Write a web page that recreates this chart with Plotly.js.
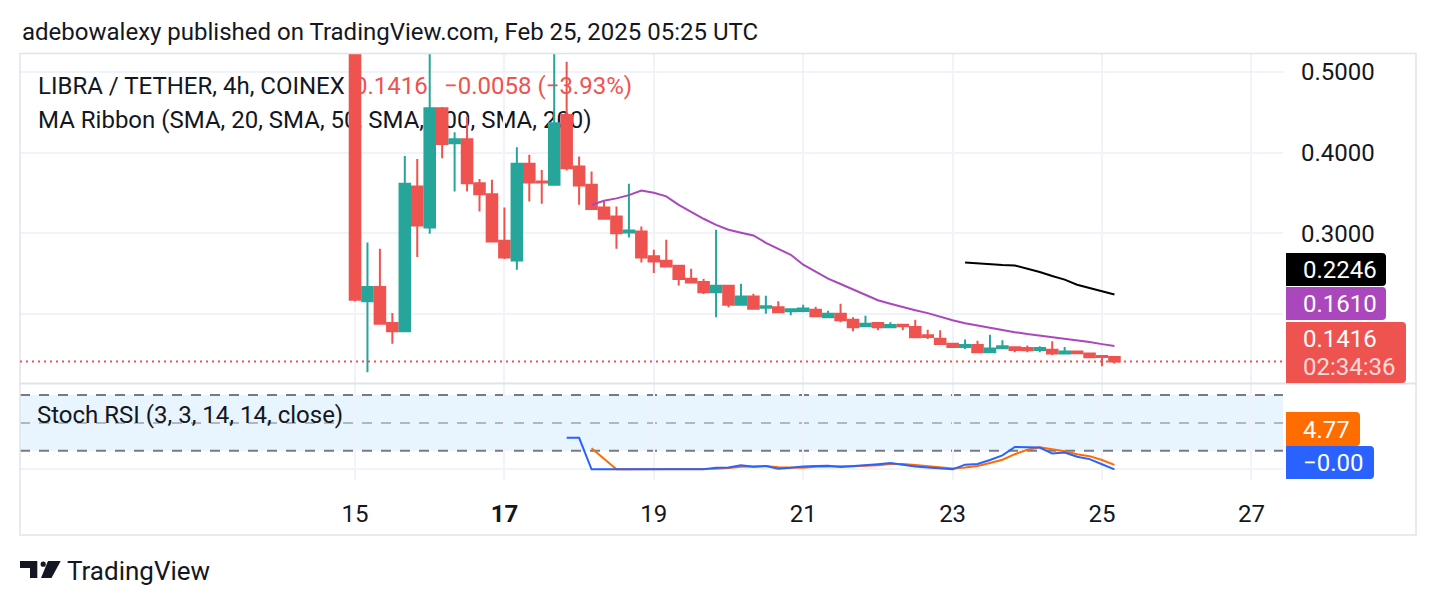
<!DOCTYPE html>
<html><head><meta charset="utf-8">
<script src="https://cdn.plot.ly/plotly-3.0.1.min.js"></script>
<style>html,body{margin:0;padding:0;background:#fff;}#chart{width:1436px;height:606px;}</style>
</head><body><div id="chart"></div>
<script>
// ---------- data ----------
const times = [
'2025-02-15 00:00','2025-02-15 04:00','2025-02-15 08:00','2025-02-15 12:00','2025-02-15 16:00','2025-02-15 20:00',
'2025-02-16 00:00','2025-02-16 04:00','2025-02-16 08:00','2025-02-16 12:00','2025-02-16 16:00','2025-02-16 20:00',
'2025-02-17 00:00','2025-02-17 04:00','2025-02-17 08:00','2025-02-17 12:00','2025-02-17 16:00','2025-02-17 20:00',
'2025-02-18 00:00','2025-02-18 04:00','2025-02-18 08:00','2025-02-18 12:00','2025-02-18 16:00','2025-02-18 20:00',
'2025-02-19 00:00','2025-02-19 04:00','2025-02-19 08:00','2025-02-19 12:00','2025-02-19 16:00','2025-02-19 20:00',
'2025-02-20 00:00','2025-02-20 04:00','2025-02-20 08:00','2025-02-20 12:00','2025-02-20 16:00','2025-02-20 20:00',
'2025-02-21 00:00','2025-02-21 04:00','2025-02-21 08:00','2025-02-21 12:00','2025-02-21 16:00','2025-02-21 20:00',
'2025-02-22 00:00','2025-02-22 04:00','2025-02-22 08:00','2025-02-22 12:00','2025-02-22 16:00','2025-02-22 20:00',
'2025-02-23 00:00','2025-02-23 04:00','2025-02-23 08:00','2025-02-23 12:00','2025-02-23 16:00','2025-02-23 20:00',
'2025-02-24 00:00','2025-02-24 04:00','2025-02-24 08:00','2025-02-24 12:00','2025-02-24 16:00','2025-02-24 20:00',
'2025-02-25 00:00','2025-02-25 04:00'];
const openP  = [0.6600,0.2161,0.2338,0.1894,0.1790,0.3581,0.3074,0.4548,0.4116,0.4164,0.3622,0.3486,0.2910,0.2667,0.3861,0.3642,0.3601,0.4465,0.3827,0.3601,0.3321,0.3210,0.3013,0.3024,0.2717,0.2663,0.2601,0.2441,0.2400,0.2272,0.2354,0.2120,0.2222,0.2083,0.2087,0.2037,0.2041,0.2058,0.1963,0.2009,0.1934,0.1852,0.1894,0.1840,0.1873,0.1844,0.1741,0.1700,0.1638,0.1597,0.1622,0.1531,0.1581,0.1593,0.1584,0.1560,0.1564,0.1515,0.1540,0.1515,0.1486,0.1474];
const highP  = [0.7000,0.2889,0.2811,0.2017,0.3959,0.3922,0.5300,0.4564,0.4252,0.4444,0.3675,0.3664,0.3321,0.4067,0.3972,0.3786,0.5400,0.5124,0.3951,0.3766,0.3394,0.3334,0.3614,0.3087,0.2799,0.2922,0.2601,0.2564,0.2441,0.3046,0.2354,0.2379,0.2256,0.2231,0.2161,0.2070,0.2120,0.2095,0.2046,0.2132,0.1963,0.1984,0.1894,0.1902,0.1873,0.1934,0.1811,0.1803,0.1644,0.1688,0.1675,0.1749,0.1680,0.1597,0.1614,0.1605,0.1667,0.1597,0.1552,0.1524,0.1494,0.1474];
const lowP   = [0.2160,0.1284,0.1874,0.1638,0.1790,0.2709,0.2996,0.3931,0.3519,0.3519,0.3272,0.2901,0.2684,0.2552,0.3395,0.3367,0.3601,0.3778,0.3354,0.3304,0.3182,0.2811,0.2951,0.2642,0.2511,0.2584,0.2358,0.2395,0.2252,0.1964,0.2087,0.2120,0.2070,0.2009,0.2025,0.1988,0.2025,0.1976,0.1963,0.1901,0.1790,0.1852,0.1803,0.1840,0.1803,0.1716,0.1696,0.1634,0.1594,0.1573,0.1531,0.1531,0.1573,0.1531,0.1531,0.1531,0.1499,0.1515,0.1511,0.1470,0.1358,0.1394];
const closeP = [0.2180,0.2338,0.1884,0.1790,0.3614,0.3099,0.4548,0.4107,0.4164,0.3622,0.3486,0.2901,0.2704,0.3861,0.3630,0.3630,0.4363,0.3807,0.3593,0.3304,0.3182,0.3004,0.3037,0.2704,0.2654,0.2593,0.2437,0.2395,0.2272,0.2354,0.2120,0.2222,0.2070,0.2099,0.2025,0.2062,0.2074,0.1976,0.2009,0.1926,0.1840,0.1885,0.1840,0.1869,0.1852,0.1716,0.1721,0.1634,0.1597,0.1622,0.1531,0.1577,0.1605,0.1560,0.1556,0.1584,0.1515,0.1540,0.1519,0.1470,0.1474,0.1416];
// MA Ribbon: SMA 20 (starts at candle 19), SMA 50 (starts at candle 49)
const sma20 = [0.3354,0.3404,0.3434,0.3474,0.3531,0.3504,0.3459,0.3354,0.3268,0.3182,0.3107,0.3046,0.3009,0.2975,0.2885,0.2811,0.2737,0.2614,0.2527,0.2441,0.2375,0.2305,0.2237,0.2175,0.2132,0.2089,0.2052,0.2015,0.1968,0.1928,0.1891,0.1861,0.1836,0.1805,0.1780,0.1756,0.1737,0.1719,0.1700,0.1679,0.1657,0.1632,0.1610];
const sma50 = [0.2642,0.2629,0.2614,0.2609,0.2604,0.2564,0.2524,0.2474,0.2429,0.2367,0.2324,0.2289,0.2246];
// Stoch RSI: %K starts at candle 17, %D starts at candle 19
const stochK = [34,34,0,0,0,0,0,0,0,0,0,0,1.8,2,4.5,2.7,3.5,0.5,1.6,3,3.5,3.8,2.5,3.3,4.5,5.5,6.7,4.5,3,2,0.8,0,5,5.8,10,15,24,24,23.5,17,18,13.5,11,5.5,0];
const stochD = [22.7,11.3,0,0,0,0,0,0,0,0,0.6,1.3,2.8,3.1,3.6,2.2,1.9,1.7,2.7,3.4,3.3,3.2,3.4,4.4,5.6,5.6,4.7,3.2,1.9,0.9,1.9,3.6,6.9,10.3,16.3,21,23.8,21.5,19.5,16.2,14.2,10,4.77];
const dayTicks  = ['2025-02-15','2025-02-17','2025-02-19','2025-02-21','2025-02-23','2025-02-25','2025-02-27'];
const dayLabels = ['15','<b>17</b>','19','21','23','25','27'];
const priceTicks = [0.2,0.3,0.4,0.5];
const priceTickLabels = ['','0.3000','0.4000','0.5000'];
const lastPrice = 0.1416;
const bands = [20,50,80];
const priceLabels = {sma50:'0.2246', sma20:'0.1610', last:'0.1416', countdown:'02:34:36', d:'4.77', k:'\u22120.00'};

// ---------- styling / geometry ----------
const FONT = 'Roboto, "Noto Sans", sans-serif';
const TXT = '#131722';
const UP = '#26a69a', DOWN = '#ef5350';
const FS = 24;
const L = 20, R = 1283, T = 54, B = 480;
const px = x => (x - L) / (R - L);
const py = y => (B - y) / (B - T);

function boxPath(x0, y0, x1, y1, r) {
  const P = (x, y) => px(x) + ',' + py(y);
  return 'M' + P(x0, y0) + ' L' + P(x1 - r, y0) + ' Q' + P(x1, y0) + ' ' + P(x1, y0 + r) +
         ' L' + P(x1, y1 - r) + ' Q' + P(x1, y1) + ' ' + P(x1 - r, y1) + ' L' + P(x0, y1) + ' Z';
}
function polyPath(pts) {
  return 'M' + pts.map(p => px(p[0]) + ',' + py(p[1])).join(' L') + ' Z';
}
function textShape(text, x, y, color, size) {
  return {type:'rect', xref:'paper', yref:'paper', x0:px(x), x1:px(x + 800), y0:py(y + 14), y1:py(y - 14),
    line:{width:0}, fillcolor:'rgba(0,0,0,0)', layer:'below',
    label:{text:text, font:{family:FONT, size:size, color:color}, textposition:'middle left', xanchor:'left', padding:0}};
}
function ann(text, x, y, color, size, extra) {
  return Object.assign({xref:'paper', yref:'paper', x:px(x), y:py(y), text:text, showarrow:false,
    xanchor:'left', yanchor:'middle', font:{family:FONT, size:size, color:color}}, extra || {});
}

const traces = [
  {type:'candlestick', x:times, open:openP, high:highP, low:lowP, close:closeP, xaxis:'x', yaxis:'y',
   whiskerwidth:0, hoverinfo:'skip',
   increasing:{line:{color:UP, width:2}, fillcolor:UP},
   decreasing:{line:{color:DOWN, width:2}, fillcolor:DOWN}},
  {type:'scatter', mode:'lines', x:times.slice(19), y:sma20, xaxis:'x', yaxis:'y', line:{color:'#ab47bc', width:2}, hoverinfo:'skip'},
  {type:'scatter', mode:'lines', x:times.slice(49), y:sma50, xaxis:'x', yaxis:'y', line:{color:'#000000', width:2}, hoverinfo:'skip'},
  {type:'scatter', mode:'lines', x:times.slice(19), y:stochD, xaxis:'x', yaxis:'y2', line:{color:'#ff6d00', width:2}, hoverinfo:'skip'},
  {type:'scatter', mode:'lines', x:times.slice(17), y:stochK, xaxis:'x', yaxis:'y2', line:{color:'#2962ff', width:2}, hoverinfo:'skip'}
];

const shapes = [
  // stoch band fill and lines
  {type:'rect', xref:'paper', yref:'y2', x0:0, x1:1, y0:bands[0], y1:bands[2], fillcolor:'rgba(33,150,243,0.1)', line:{width:0}, layer:'below'},
  {type:'line', xref:'paper', yref:'y2', x0:0, x1:1, y0:bands[2], y1:bands[2], line:{color:'#787b86', width:2, dash:'10px,9px'}, layer:'below'},
  {type:'line', xref:'paper', yref:'y2', x0:0, x1:1, y0:bands[1], y1:bands[1], line:{color:'rgba(120,123,134,0.5)', width:2, dash:'10px,9px'}, layer:'below'},
  {type:'line', xref:'paper', yref:'y2', x0:0, x1:1, y0:bands[0], y1:bands[0], line:{color:'#787b86', width:2, dash:'10px,9px'}, layer:'below'},
  // frame and pane separator
  {type:'rect', xref:'paper', yref:'paper', x0:px(20), x1:px(1416), y0:py(535), y1:py(53.5), line:{color:'#e0e3eb', width:1.5}, fillcolor:'rgba(0,0,0,0)', layer:'above'},
  {type:'line', xref:'paper', yref:'paper', x0:px(20), x1:px(1416), y0:py(383.5), y1:py(383.5), line:{color:'#e0e3eb', width:2}, layer:'above'},
  // last price dotted line
  {type:'line', xref:'paper', yref:'y', x0:0, x1:1, y0:lastPrice, y1:lastPrice, line:{color:DOWN, width:2, dash:'2px,4px'}, layer:'above'},
  // price scale labels
  {type:'path', xref:'paper', yref:'paper', path:boxPath(1286, 253, 1386, 286, 4), fillcolor:'#000000', line:{width:0}, layer:'above'},
  {type:'path', xref:'paper', yref:'paper', path:boxPath(1286, 287, 1386, 320, 4), fillcolor:'#ab47bc', line:{width:0}, layer:'above'},
  {type:'path', xref:'paper', yref:'paper', path:boxPath(1286, 322, 1406, 383, 4), fillcolor:DOWN, line:{width:0}, layer:'above'},
  {type:'path', xref:'paper', yref:'paper', path:boxPath(1286, 412, 1360, 446, 4), fillcolor:'#ff6d00', line:{width:0}, layer:'above'},
  {type:'path', xref:'paper', yref:'paper', path:boxPath(1286, 446, 1374, 479, 4), fillcolor:'#2962ff', line:{width:0}, layer:'above'},
  // TradingView logo
  {type:'path', xref:'paper', yref:'paper', path:polyPath([[20,561],[37.3,561],[37.3,578],[30,578],[30,568],[20,568]]), fillcolor:TXT, line:{width:0}, layer:'above'},
  {type:'circle', xref:'paper', yref:'paper', x0:px(40.6), x1:px(45.8), y0:py(566.8), y1:py(561.6), fillcolor:TXT, line:{width:0}, layer:'above'},
  {type:'path', xref:'paper', yref:'paper', path:polyPath([[48,561],[60.7,561],[51.5,578],[41,578]]), fillcolor:TXT, line:{width:0}, layer:'above'},
  // legend text (under the candles)
  textShape('LIBRA / TETHER, 4h, COINEX', 35, 83.5, TXT, FS),
  textShape('0.1416', 351, 83.5, DOWN, FS),
  textShape('\u22120.0058 (\u22123.93%)', 441, 83.5, DOWN, FS),
  textShape('MA Ribbon (SMA, 20, SMA, 50, SMA, 100, SMA, 200)', 35, 117.5, TXT, FS)
];

const annotations = [
  ann('adebowalexy published on TradingView.com, Feb 25, 2025 05:25 UTC', 20, 32, TXT, FS),
  ann('Stoch RSI (3, 3, 14, 14, close)', 35, 415, TXT, FS),
  ann(priceLabels.sma50, 1301, 270, '#ffffff', FS),
  ann(priceLabels.sma20, 1301, 304, '#ffffff', FS),
  ann(priceLabels.last, 1301, 339, '#ffffff', FS),
  ann(priceLabels.countdown, 1301, 367, 'rgba(255,255,255,0.8)', FS),
  ann(priceLabels.d, 1301, 430, '#ffffff', FS),
  ann(priceLabels.k, 1301, 463, '#ffffff', FS),
  ann('TradingView', 65, 571, TXT, 26)
];

const layout = {
  width:1436, height:606,
  margin:{l:L, r:1436 - R, t:T, b:606 - B, pad:0},
  paper_bgcolor:'#ffffff', plot_bgcolor:'rgba(0,0,0,0)',
  showlegend:false, dragmode:false, hovermode:false,
  boxgap:0.15, boxgroupgap:0,
  font:{family:FONT, color:TXT, size:FS},
  xaxis:{type:'date', range:['2025-02-10 12:22','2025-02-27 10:09'], anchor:'y2',
    tickvals:dayTicks, ticktext:dayLabels, showgrid:true, gridcolor:'#f0f3fa', gridwidth:2,
    zeroline:false, showline:false, ticks:'', ticklabelstandoff:17, tickfont:{family:FONT, size:FS, color:TXT},
    rangeslider:{visible:false}, fixedrange:true},
  yaxis:{domain:[py(383), 1], range:[0.11515, 0.52188], side:'right', anchor:'x',
    tickvals:priceTicks, ticktext:priceTickLabels, showgrid:true, gridcolor:'#f0f3fa', gridwidth:2,
    zeroline:false, showline:false, ticks:'', ticklabelstandoff:17, tickfont:{family:FONT, size:FS, color:TXT}, fixedrange:true},
  yaxis2:{domain:[0, py(384)], range:[-11.5, 91.9], side:'right', anchor:'x',
    tickvals:[0], showticklabels:false, showgrid:true, gridcolor:'#f0f3fa', gridwidth:2,
    zeroline:false, showline:false, ticks:'', fixedrange:true},
  shapes:shapes, annotations:annotations
};

Plotly.newPlot('chart', traces, layout, {displayModeBar:false, staticPlot:true});
</script></body></html>
